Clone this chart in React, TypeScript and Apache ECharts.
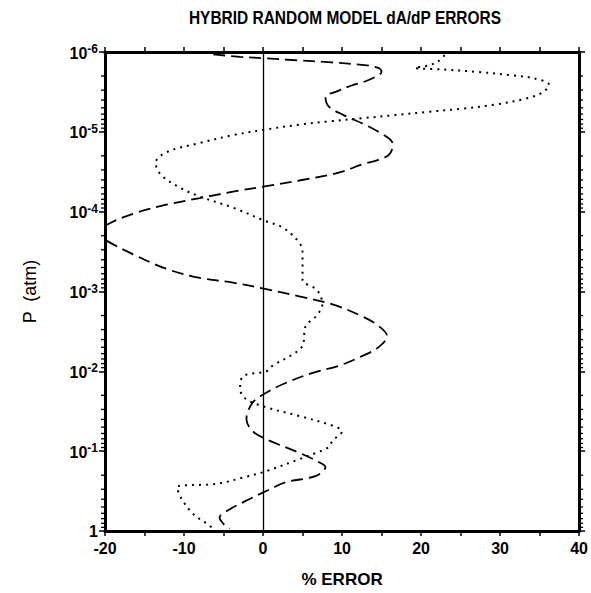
import React, { useEffect, useRef } from "react";
import * as echarts from "echarts";

// Dashed curve: pressure (atm) and percent error, top of atmosphere downward
const dashedPressure = [
  1.07e-6, 1.15e-6, 1.2e-6, 1.26e-6, 1.35e-6, 1.45e-6, 1.58e-6, 1.78e-6, 1.95e-6, 2.34e-6,
  2.63e-6, 3.16e-6, 3.63e-6, 4.79e-6, 6.17e-6, 8.13e-6, 1.0e-5, 1.32e-5, 1.51e-5, 1.95e-5,
  2.24e-5, 2.57e-5, 3.16e-5, 3.47e-5, 4.07e-5, 4.79e-5, 5.62e-5, 6.76e-5, 8.13e-5, 1.05e-4,
  1.45e-4, 1.86e-4, 2.34e-4, 3.47e-4, 5.25e-4, 6.76e-4, 7.76e-4, 9.33e-4, 1.15e-3, 1.45e-3,
  2.04e-3, 2.69e-3, 3.63e-3, 5.01e-3, 6.46e-3, 8.51e-3, 1.05e-2, 1.45e-2, 1.86e-2, 2.45e-2,
  3.98e-2, 5.62e-2, 7.08e-2, 0.105, 0.138, 0.158, 0.204, 0.245, 0.316, 0.398,
  0.562, 0.676, 0.813, 0.933,
];
const dashedError = [
  -6.3, -2.9, 0.4, 3.7, 8.7, 12.5, 14.6, 15.0, 14.6, 12.9,
  11.2, 9.2, 7.9, 8.3, 10.2, 12.9, 14.6, 16.3, 16.4, 15.9,
  14.6, 12.5, 10.0, 8.3, 4.6, 0.4, -3.8, -8.0, -12.1, -16.3,
  -19.7, -21.0, -19.7, -16.3, -12.1, -8.0, -3.8, 0.4, 4.6, 8.8,
  12.5, 14.6, 15.7, 14.6, 12.5, 9.6, 6.2, 2.5, 0.4, -1.3,
  -2.1, -1.3, 0.4, 4.6, 7.1, 7.9, 6.7, 2.9, 0.4, -1.7,
  -4.6, -5.5, -5.0, -4.2,
];

// Dotted curve
const dottedPressure = [
  1.1e-6, 1.32e-6, 1.48e-6, 1.58e-6, 1.66e-6, 1.78e-6, 1.95e-6, 2.14e-6, 2.57e-6, 3.16e-6,
  3.8e-6, 4.57e-6, 5.13e-6, 5.62e-6, 6.17e-6, 6.76e-6, 7.41e-6, 8.13e-6, 9.33e-6, 1.1e-5,
  1.38e-5, 1.78e-5, 2.45e-5, 3.47e-5, 5.01e-5, 6.46e-5, 8.91e-5, 1.32e-4, 1.58e-4, 2.45e-4,
  3.31e-4, 7.08e-4, 9.33e-4, 1.15e-3, 1.45e-3, 2.04e-3, 2.69e-3, 4.79e-3, 6.17e-3, 8.51e-3,
  1.0e-2, 1.15e-2, 1.66e-2, 2.24e-2, 2.82e-2, 3.63e-2, 4.79e-2, 5.62e-2, 7.41e-2, 8.91e-2,
  0.105, 0.126, 0.178, 0.214, 0.257, 0.282, 0.398, 0.617, 0.813, 0.933,
];
const dottedError = [
  23.0, 22.1, 20.9, 19.2, 23.0, 27.2, 31.4, 34.3, 36.2, 35.5,
  33.4, 29.3, 25.1, 20.9, 16.7, 12.5, 8.3, 4.6, 0.4, -3.8,
  -8.0, -12.1, -13.6, -12.9, -10.5, -8.0, -3.8, 0.4, 2.5, 4.6,
  5.0, 5.0, 6.7, 7.3, 7.5, 6.7, 5.4, 5.0, 3.7, 1.2,
  0.4, -2.5, -2.9, -2.1, 0.4, 4.6, 8.8, 10.0, 8.8, 8.3,
  6.7, 4.6, 0.4, -2.5, -5.9, -10.9, -10.3, -8.8, -7.1, -6.3,
];

const xTickLabels = ["-20", "-10", "0", "10", "20", "30", "40"];
const errorMin = -20;
const errorMax = 40;
const pressureMin = 1e-6;
const pressureMax = 1;

// log-axis minor tick positions: 2..9 times each decade
const minorPressureTicks: number[] = [];
for (let e = -6; e < 0; e++) {
  for (let m = 2; m <= 9; m++) minorPressureTicks.push(m * Math.pow(10, e));
}

const labelFont = "'Liberation Sans', Arial, sans-serif";

export default function App() {
  const ref = useRef<HTMLDivElement>(null);

  useEffect(() => {
    if (!ref.current) return;
    const chart = echarts.init(ref.current, undefined, { renderer: "svg" });

    const dashed = dashedPressure.map((p, i) => [dashedError[i], p]);
    const dotted = dottedPressure.map((p, i) => [dottedError[i], p]);

    const axisLine = { show: true, onZero: false, lineStyle: { color: "#000", width: 3 } };
    const tickStyle = { color: "#000", width: 1.5 };

    const yLabel = (v: number) => {
      const e = Math.round(Math.log10(v));
      if (e === 0) return "{one|1}";
      return `{b|10}{s|${e}}`;
    };

    chart.setOption({
      animation: false,
      backgroundColor: "#fff",
      grid: { left: 105, right: 8, top: 52, bottom: 61, containLabel: false },
      graphic: [
        {
          type: "text",
          x: 345,
          y: 18,
          scaleX: 0.86,
          style: {
            text: "HYBRID RANDOM MODEL dA/dP ERRORS",
            font: `bold 18px ${labelFont}`,
            fill: "#000",
            textAlign: "center",
            textVerticalAlign: "middle",
          },
        },
      ],
      xAxis: [
        {
          type: "value",
          position: "bottom",
          min: errorMin,
          max: errorMax,
          interval: 10,
          name: "% ERROR",
          nameLocation: "middle",
          nameGap: 40,
          nameTextStyle: { fontFamily: labelFont, fontWeight: "bold", fontSize: 17, color: "#000" },
          axisLine,
          axisTick: { show: true, inside: false, length: 5, lineStyle: tickStyle },
          minorTick: { show: true, splitNumber: 2, length: 5, lineStyle: tickStyle },
          splitLine: { show: false },
          axisLabel: {
            margin: 9,
            fontFamily: labelFont,
            fontWeight: "bold",
            fontSize: 16,
            color: "#000",
            formatter: (v: number) => xTickLabels[Math.round((v - errorMin) / 10)] ?? "",
          },
        },
        {
          type: "value",
          position: "top",
          min: errorMin,
          max: errorMax,
          interval: 10,
          axisLine,
          axisTick: { show: true, inside: false, length: 5, lineStyle: tickStyle },
          minorTick: { show: true, splitNumber: 2, length: 5, lineStyle: tickStyle },
          splitLine: { show: false },
          axisLabel: { show: false },
        },
      ],
      yAxis: [
        {
          type: "log",
          logBase: 10,
          position: "left",
          inverse: true,
          min: pressureMin,
          max: pressureMax,
          interval: 1,
          name: "P  (atm)",
          nameLocation: "middle",
          nameGap: 66,
          nameRotate: 90,
          nameTextStyle: { fontFamily: labelFont, fontSize: 18, color: "#000" },
          axisLine,
          axisTick: { show: true, inside: false, length: 6, lineStyle: tickStyle },
          splitLine: { show: false },
          axisLabel: {
            margin: 7,
            color: "#000",
            formatter: yLabel,
            rich: {
              one: { fontFamily: labelFont, fontWeight: "bold", fontSize: 16, color: "#000", lineHeight: 16 },
              b: { fontFamily: labelFont, fontWeight: "bold", fontSize: 16, color: "#000", lineHeight: 18, verticalAlign: "bottom" },
              s: { fontFamily: labelFont, fontWeight: "bold", fontSize: 12, color: "#000", lineHeight: 6, verticalAlign: "top" },
            },
          },
        },
        {
          type: "log",
          logBase: 10,
          position: "right",
          inverse: true,
          min: pressureMin,
          max: pressureMax,
          interval: 1,
          axisLine,
          axisTick: { show: true, inside: false, length: 6, lineStyle: tickStyle },
          splitLine: { show: false },
          axisLabel: { show: false },
        },
      ],
      series: [
        {
          type: "custom",
          xAxisIndex: 0,
          yAxisIndex: 0,
          silent: true,
          clip: false,
          data: minorPressureTicks.map((p) => [errorMin, p]),
          renderItem: (params: any, api: any) => {
            const p = api.value(1);
            const l = api.coord([errorMin, p]);
            const r = api.coord([errorMax, p]);
            const style = { stroke: "#000", lineWidth: 1.3 };
            return {
              type: "group",
              children: [
                { type: "line", shape: { x1: l[0] - 4, y1: l[1], x2: l[0], y2: l[1] }, style },
                { type: "line", shape: { x1: r[0], y1: r[1], x2: r[0] + 4, y2: r[1] }, style },
              ],
            };
          },
        },
        {
          type: "line",
          xAxisIndex: 0,
          yAxisIndex: 0,
          data: dashed,
          smooth: 0.35,
          showSymbol: false,
          symbol: "none",
          clip: true,
          lineStyle: { color: "#000", width: 1.8, type: [12, 6] },
          markLine: {
            silent: true,
            symbol: ["none", "none"],
            label: { show: false },
            lineStyle: { color: "#000", width: 1.3, type: "solid" },
            data: [{ xAxis: 0 }],
          },
        },
        {
          type: "line",
          xAxisIndex: 0,
          yAxisIndex: 0,
          data: dotted,
          smooth: 0.35,
          showSymbol: false,
          symbol: "none",
          clip: true,
          lineStyle: { color: "#000", width: 2, type: [2, 5] },
        },
      ],
    });

    return () => chart.dispose();
  }, []);

  return (
    <div
      ref={ref}
      style={{ position: "absolute", left: 0, top: 0, width: 591, height: 593, background: "#fff" }}
    />
  );
}
